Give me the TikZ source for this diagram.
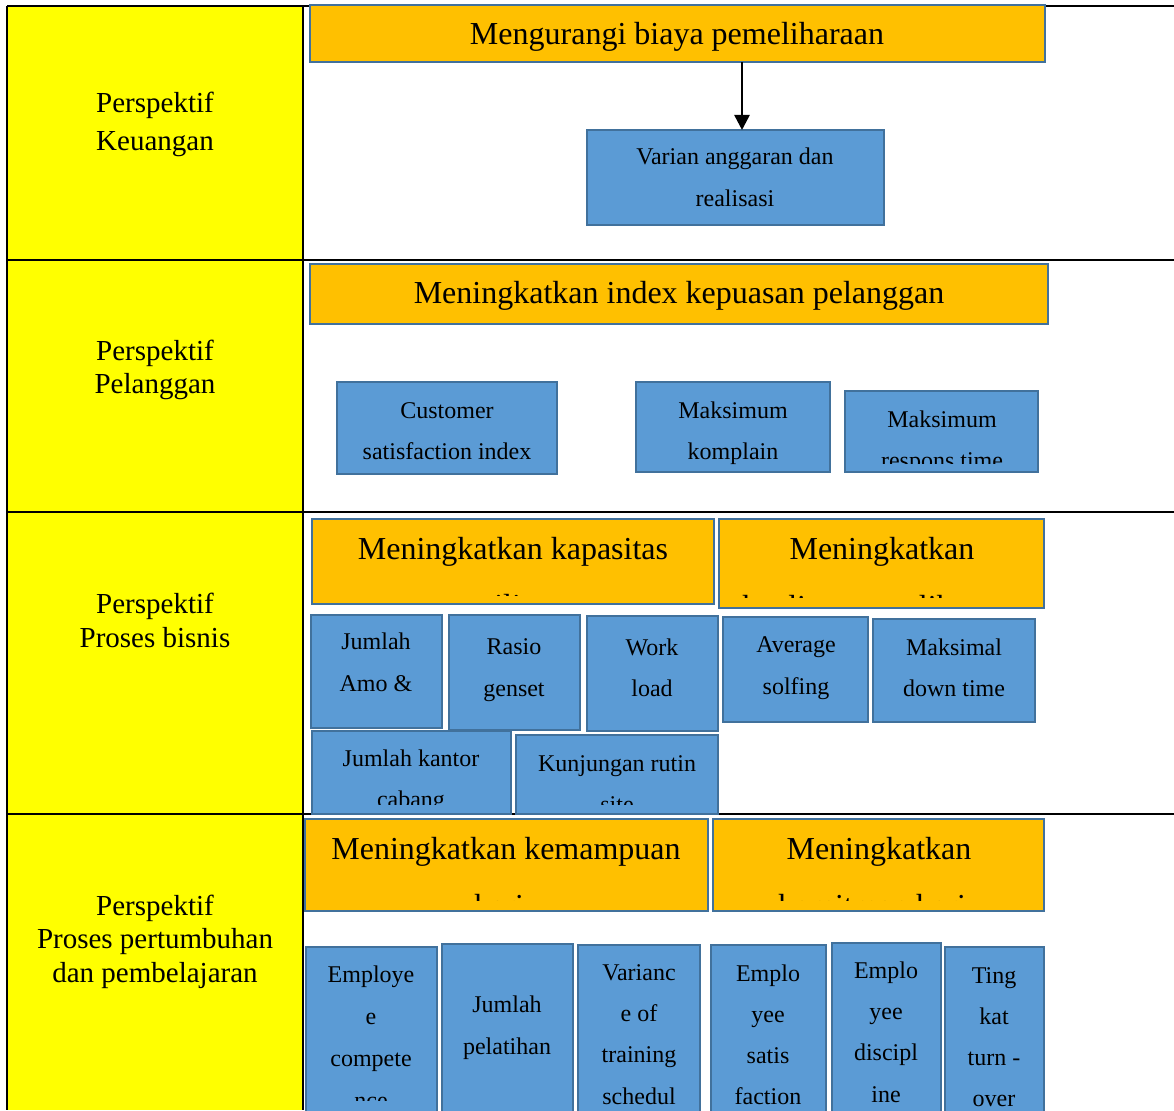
\documentclass[tikz,border=0pt]{standalone}
\usepackage{fontspec}
\setmainfont{Liberation Serif}
\usetikzlibrary{arrows.meta}
\definecolor{yel}{HTML}{FFFF00}
\definecolor{org}{HTML}{FFC000}
\definecolor{blu}{HTML}{5B9BD5}
\definecolor{bdr}{HTML}{41719C}
\tikzset{
 obox/.style={draw=bdr, fill=org, line width=2.5pt, inner sep=0pt, outer sep=0pt},
 bbox/.style={draw=bdr, fill=blu, line width=2pt, inner sep=0pt, outer sep=0pt},
 big/.style={font=\fontsize{32}{32}\selectfont},
 mtxt/.style={font=\fontsize{24}{24}\selectfont},
 ltxt/.style={font=\fontsize{29}{29}\selectfont},
 tl/.style={anchor=mid, inner sep=0pt, yshift=-7pt},
 gridline/.style={line width=1.5pt, black},
 arr/.style={-{Triangle[length=15pt,width=15pt]}, line width=2.5pt}
}
\newcommand\rbox[6]{\node[#1, anchor=north west, minimum width={#5-#3}, minimum height={#6-#4}] (#2) at (#3,#4) {};}
\newcommand\btext[6]{\foreach \lin [count=\i from 0] in {#6} {\node[tl,#5] (#1-\i) at (#2,{#3+\i*#4}) {\lin};}}
\begin{document}
\begin{tikzpicture}[x=1pt,y=-1pt]
\useasboundingbox (0,0) rectangle (1174,1110);
\fill[white] (0,0) rectangle (1174,1110);
% table
\fill[yel] (7,6) rectangle (303,1110);
\draw[gridline] (7,6) -- (1174,6);
\draw[gridline] (7,260) -- (1174,260);
\draw[gridline] (7,512) -- (1174,512);
\draw[gridline] (7,814) -- (1174,814);
\draw[gridline] (7,6) -- (7,1110);
\draw[gridline] (303,6) -- (303,1110);
% left labels
\node[tl,ltxt] (p1a) at (155,103) {Perspektif};
\node[tl,ltxt] (p1b) at (155,141) {Keuangan};
\node[tl,ltxt] (p2a) at (155,351) {Perspektif};
\node[tl,ltxt] (p2b) at (155,384) {Pelanggan};
\node[tl,ltxt] (p3a) at (155,604) {Perspektif};
\node[tl,ltxt] (p3b) at (155,638) {Proses bisnis};
\node[tl,ltxt] (p4a) at (155,906) {Perspektif};
\node[tl,ltxt] (p4b) at (155,939) {Proses pertumbuhan};
\node[tl,ltxt] (p4c) at (155,973) {dan pembelajaran};
% row 1
\rbox{obox}{t1}{310}{5}{1045}{62}
\node[tl,big] (t1t) at (677,35) {Mengurangi biaya pemeliharaan};
\rbox{bbox}{v1}{587}{130}{884}{225}
\btext{v1t}{735}{155}{42}{mtxt}{Varian anggaran dan,realisasi}
\coordinate (ax) at (742,0);
\draw[arr] (t1.south -| ax) -- (v1.north -| ax);
% row 2
\rbox{obox}{t2}{310}{264}{1048}{324}
\node[tl,big] (t2t) at (679,294) {Meningkatkan index kepuasan pelanggan};
\rbox{bbox}{c1}{337}{382}{557}{474}
\btext{c1t}{447}{409}{41}{mtxt}{Customer,satisfaction index}
\rbox{bbox}{c2}{636}{382}{830}{472}
\btext{c2t}{733}{409}{41}{mtxt}{Maksimum,komplain}
\rbox{bbox}{c3}{845}{391}{1038}{472}
\begin{scope}\clip (845,391) rectangle (1038,463);
\btext{c3t}{942}{418}{41}{mtxt}{Maksimum,respons time}
\end{scope}
% row 3
\rbox{obox}{t3}{312}{519}{714}{604}
\begin{scope}\clip (312,519) rectangle (714,595);
\btext{t3t}{513}{550}{57}{big}{Meningkatkan kapasitas,utilitas}
\end{scope}
\rbox{obox}{t4}{719}{519}{1044}{608}
\begin{scope}\clip (719,519) rectangle (1044,597);
\btext{t4t}{882}{550}{58}{big}{Meningkatkan,kualitas pemeliharaan}
\end{scope}
\rbox{bbox}{b1}{311}{615}{442}{728}
\btext{b1t}{376}{640}{42}{mtxt}{Jumlah,Amo \&}
\rbox{bbox}{b2}{449}{615}{580}{730}
\btext{b2t}{514}{645}{42}{mtxt}{Rasio,genset}
\rbox{bbox}{b3}{587}{616}{718}{731}
\btext{b3t}{652}{646}{41}{mtxt}{Work,load}
\rbox{bbox}{b4}{723}{617}{868}{722}
\btext{b4t}{796}{643}{42}{mtxt}{Average,solfing}
\rbox{bbox}{b5}{873}{619}{1035}{722}
\btext{b5t}{954}{646}{41}{mtxt}{Maksimal,down time}
\rbox{bbox}{b6}{312}{731}{511}{814}
\begin{scope}\clip (312,731) rectangle (511,804);
\btext{b6t}{411}{757}{41}{mtxt}{Jumlah kantor,cabang}
\end{scope}
\rbox{bbox}{b7}{516}{735}{718}{814}
\begin{scope}\clip (516,735) rectangle (718,804);
\btext{b7t}{617}{762}{41}{mtxt}{Kunjungan rutin,site}
\end{scope}
% row 4
\rbox{obox}{t5}{305}{819}{708}{911}
\begin{scope}\clip (305,819) rectangle (708,900);
\btext{t5t}{506}{850}{57}{big}{Meningkatkan kemampuan,kerja}
\end{scope}
\rbox{obox}{t6}{713}{819}{1044}{911}
\begin{scope}\clip (713,819) rectangle (1044,900);
\btext{t6t}{879}{850}{57}{big}{Meningkatkan,komitmen kerja}
\end{scope}
\rbox{bbox}{d1}{306}{947}{437}{1125}
\begin{scope}\clip (306,947) rectangle (437,1100);
\btext{d1t}{371}{973}{42}{mtxt}{Employe,e,compete,nce}
\end{scope}
\rbox{bbox}{d2}{442}{944}{573}{1125}
\btext{d2t}{507}{1003}{42}{mtxt}{Jumlah,pelatihan}
\rbox{bbox}{d3}{578}{945}{700}{1125}
\btext{d3t}{639}{971}{41.3}{mtxt}{Varianc,e of,training,schedul}
\rbox{bbox}{d4}{711}{945}{826}{1125}
\btext{d4t}{768}{972}{41}{mtxt}{Emplo,yee,satis,faction}
\rbox{bbox}{d5}{832}{943}{941}{1125}
\btext{d5t}{886}{969}{41.3}{mtxt}{Emplo,yee,discipl,ine}
\rbox{bbox}{d6}{945}{947}{1044}{1125}
\btext{d6t}{994}{974}{41}{mtxt}{Ting,kat,turn -,over}
\end{tikzpicture}
\end{document}
